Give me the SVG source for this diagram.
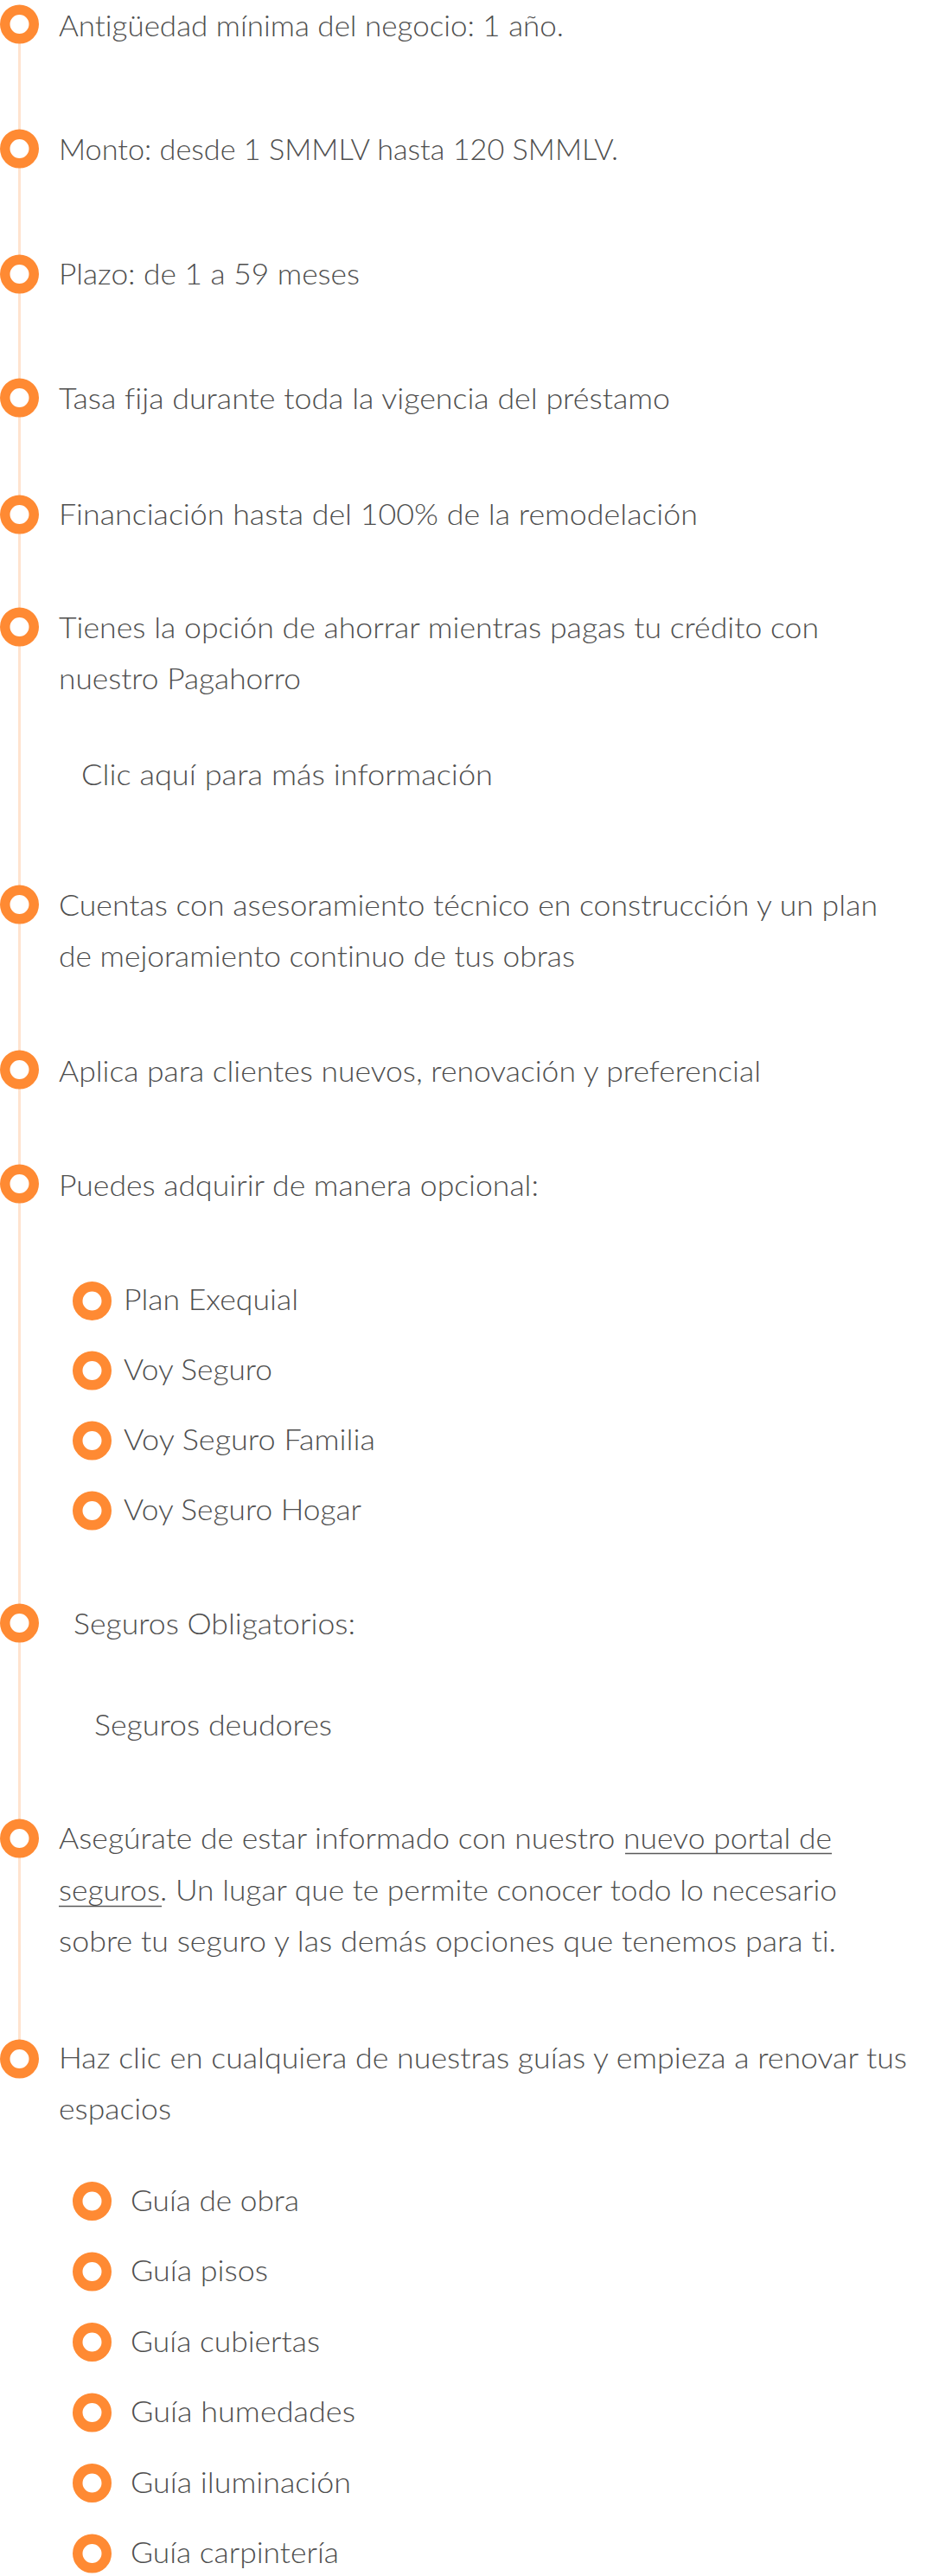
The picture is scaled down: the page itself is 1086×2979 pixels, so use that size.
<svg xmlns="http://www.w3.org/2000/svg" width="1086" height="2979" viewBox="0 0 1086 2979">
<style>
text{font-family:"Lato","Noto Sans","Liberation Sans",sans-serif;font-weight:300;font-size:34px;fill:#4e4e4e;font-variant-ligatures:none}
.dot{fill:#fff;stroke:#ff8a33;stroke-width:11.5}
.ul{stroke:#5a5a5a;stroke-width:1.5}
</style>
<rect width="1086" height="2979" fill="#fff"/>
<g id="connectors">
<line x1="22.5" y1="28" x2="22.5" y2="2381" stroke="#ffe3cf" stroke-width="3"/>
</g>
<g id="n1"><circle class="dot" cx="22.5" cy="28" r="16.75"/><text x="68" y="42" textLength="584" lengthAdjust="spacingAndGlyphs">Antigüedad mínima del negocio: 1 año.</text></g>
<g id="n2"><circle class="dot" cx="22.5" cy="172" r="16.75"/><text x="68" y="185" textLength="647" lengthAdjust="spacingAndGlyphs">Monto: desde 1 SMMLV hasta 120 SMMLV.</text></g>
<g id="n3"><circle class="dot" cx="22.5" cy="317" r="16.75"/><text x="68" y="329" textLength="348" lengthAdjust="spacingAndGlyphs">Plazo: de 1 a 59 meses</text></g>
<g id="n4"><circle class="dot" cx="22.5" cy="460" r="16.75"/><text x="68" y="473" textLength="707" lengthAdjust="spacingAndGlyphs">Tasa fija durante toda la vigencia del préstamo</text></g>
<g id="n5"><circle class="dot" cx="22.5" cy="595" r="16.75"/><text x="68" y="607" textLength="739" lengthAdjust="spacingAndGlyphs">Financiación hasta del 100% de la remodelación</text></g>
<g id="n6"><circle class="dot" cx="22.5" cy="725" r="16.75"/><text x="68" y="738" textLength="879" lengthAdjust="spacingAndGlyphs">Tienes la opción de ahorrar mientras pagas tu crédito con</text><text x="68" y="797" textLength="280" lengthAdjust="spacingAndGlyphs">nuestro Pagahorro</text><text x="94" y="908" textLength="476" lengthAdjust="spacingAndGlyphs">Clic aquí para más información</text></g>
<g id="n7"><circle class="dot" cx="22.5" cy="1046" r="16.75"/><text x="68" y="1059" textLength="947" lengthAdjust="spacingAndGlyphs">Cuentas con asesoramiento técnico en construcción y un plan</text><text x="68" y="1118" textLength="597" lengthAdjust="spacingAndGlyphs">de mejoramiento continuo de tus obras</text></g>
<g id="n8"><circle class="dot" cx="22.5" cy="1237" r="16.75"/><text x="68" y="1251" textLength="812" lengthAdjust="spacingAndGlyphs">Aplica para clientes nuevos, renovación y preferencial</text></g>
<g id="n9"><circle class="dot" cx="22.5" cy="1369" r="16.75"/><text x="68" y="1383" textLength="555" lengthAdjust="spacingAndGlyphs">Puedes adquirir de manera opcional:</text></g>
<g id="n9a"><circle class="dot" cx="106.5" cy="1504.5" r="16.75"/><text x="143" y="1515" textLength="202" lengthAdjust="spacingAndGlyphs">Plan Exequial</text></g>
<g id="n9b"><circle class="dot" cx="106.5" cy="1585" r="16.75"/><text x="143" y="1596" textLength="172" lengthAdjust="spacingAndGlyphs">Voy Seguro</text></g>
<g id="n9c"><circle class="dot" cx="106.5" cy="1666" r="16.75"/><text x="143" y="1677" textLength="291" lengthAdjust="spacingAndGlyphs">Voy Seguro Familia</text></g>
<g id="n9d"><circle class="dot" cx="106.5" cy="1747" r="16.75"/><text x="143" y="1758" textLength="275" lengthAdjust="spacingAndGlyphs">Voy Seguro Hogar</text></g>
<g id="n10"><circle class="dot" cx="22.5" cy="1877" r="16.75"/><text x="85" y="1890" textLength="326" lengthAdjust="spacingAndGlyphs">Seguros Obligatorios:</text><text x="109" y="2007" textLength="275" lengthAdjust="spacingAndGlyphs">Seguros deudores</text></g>
<g id="n11"><circle class="dot" cx="22.5" cy="2126" r="16.75"/><text x="68" y="2138" textLength="894" lengthAdjust="spacingAndGlyphs">Asegúrate de estar informado con nuestro nuevo portal de</text><line class="ul" x1="723" y1="2143.5" x2="962" y2="2143.5"/><text x="68" y="2198" textLength="900" lengthAdjust="spacingAndGlyphs">seguros. Un lugar que te permite conocer todo lo necesario</text><line class="ul" x1="68" y1="2204.5" x2="187" y2="2204.5"/><text x="68" y="2257" textLength="899" lengthAdjust="spacingAndGlyphs">sobre tu seguro y las demás opciones que tenemos para ti.</text></g>
<g id="n12"><circle class="dot" cx="22.5" cy="2381" r="16.75"/><text x="68" y="2392" textLength="981" lengthAdjust="spacingAndGlyphs">Haz clic en cualquiera de nuestras guías y empieza a renovar tus</text><text x="68" y="2451" textLength="130" lengthAdjust="spacingAndGlyphs">espacios</text></g>
<g id="n12a"><circle class="dot" cx="106.5" cy="2545.5" r="16.75"/><text x="151" y="2557" textLength="195" lengthAdjust="spacingAndGlyphs">Guía de obra</text></g>
<g id="n12b"><circle class="dot" cx="106.5" cy="2627" r="16.75"/><text x="151" y="2638" textLength="159" lengthAdjust="spacingAndGlyphs">Guía pisos</text></g>
<g id="n12c"><circle class="dot" cx="106.5" cy="2708.5" r="16.75"/><text x="151" y="2720" textLength="219" lengthAdjust="spacingAndGlyphs">Guía cubiertas</text></g>
<g id="n12d"><circle class="dot" cx="106.5" cy="2790" r="16.75"/><text x="151" y="2801" textLength="260" lengthAdjust="spacingAndGlyphs">Guía humedades</text></g>
<g id="n12e"><circle class="dot" cx="106.5" cy="2871.5" r="16.75"/><text x="151" y="2883" textLength="255" lengthAdjust="spacingAndGlyphs">Guía iluminación</text></g>
<g id="n12f"><circle class="dot" cx="106.5" cy="2953" r="16.75"/><text x="151" y="2964" textLength="241" lengthAdjust="spacingAndGlyphs">Guía carpintería</text></g>
</svg>
